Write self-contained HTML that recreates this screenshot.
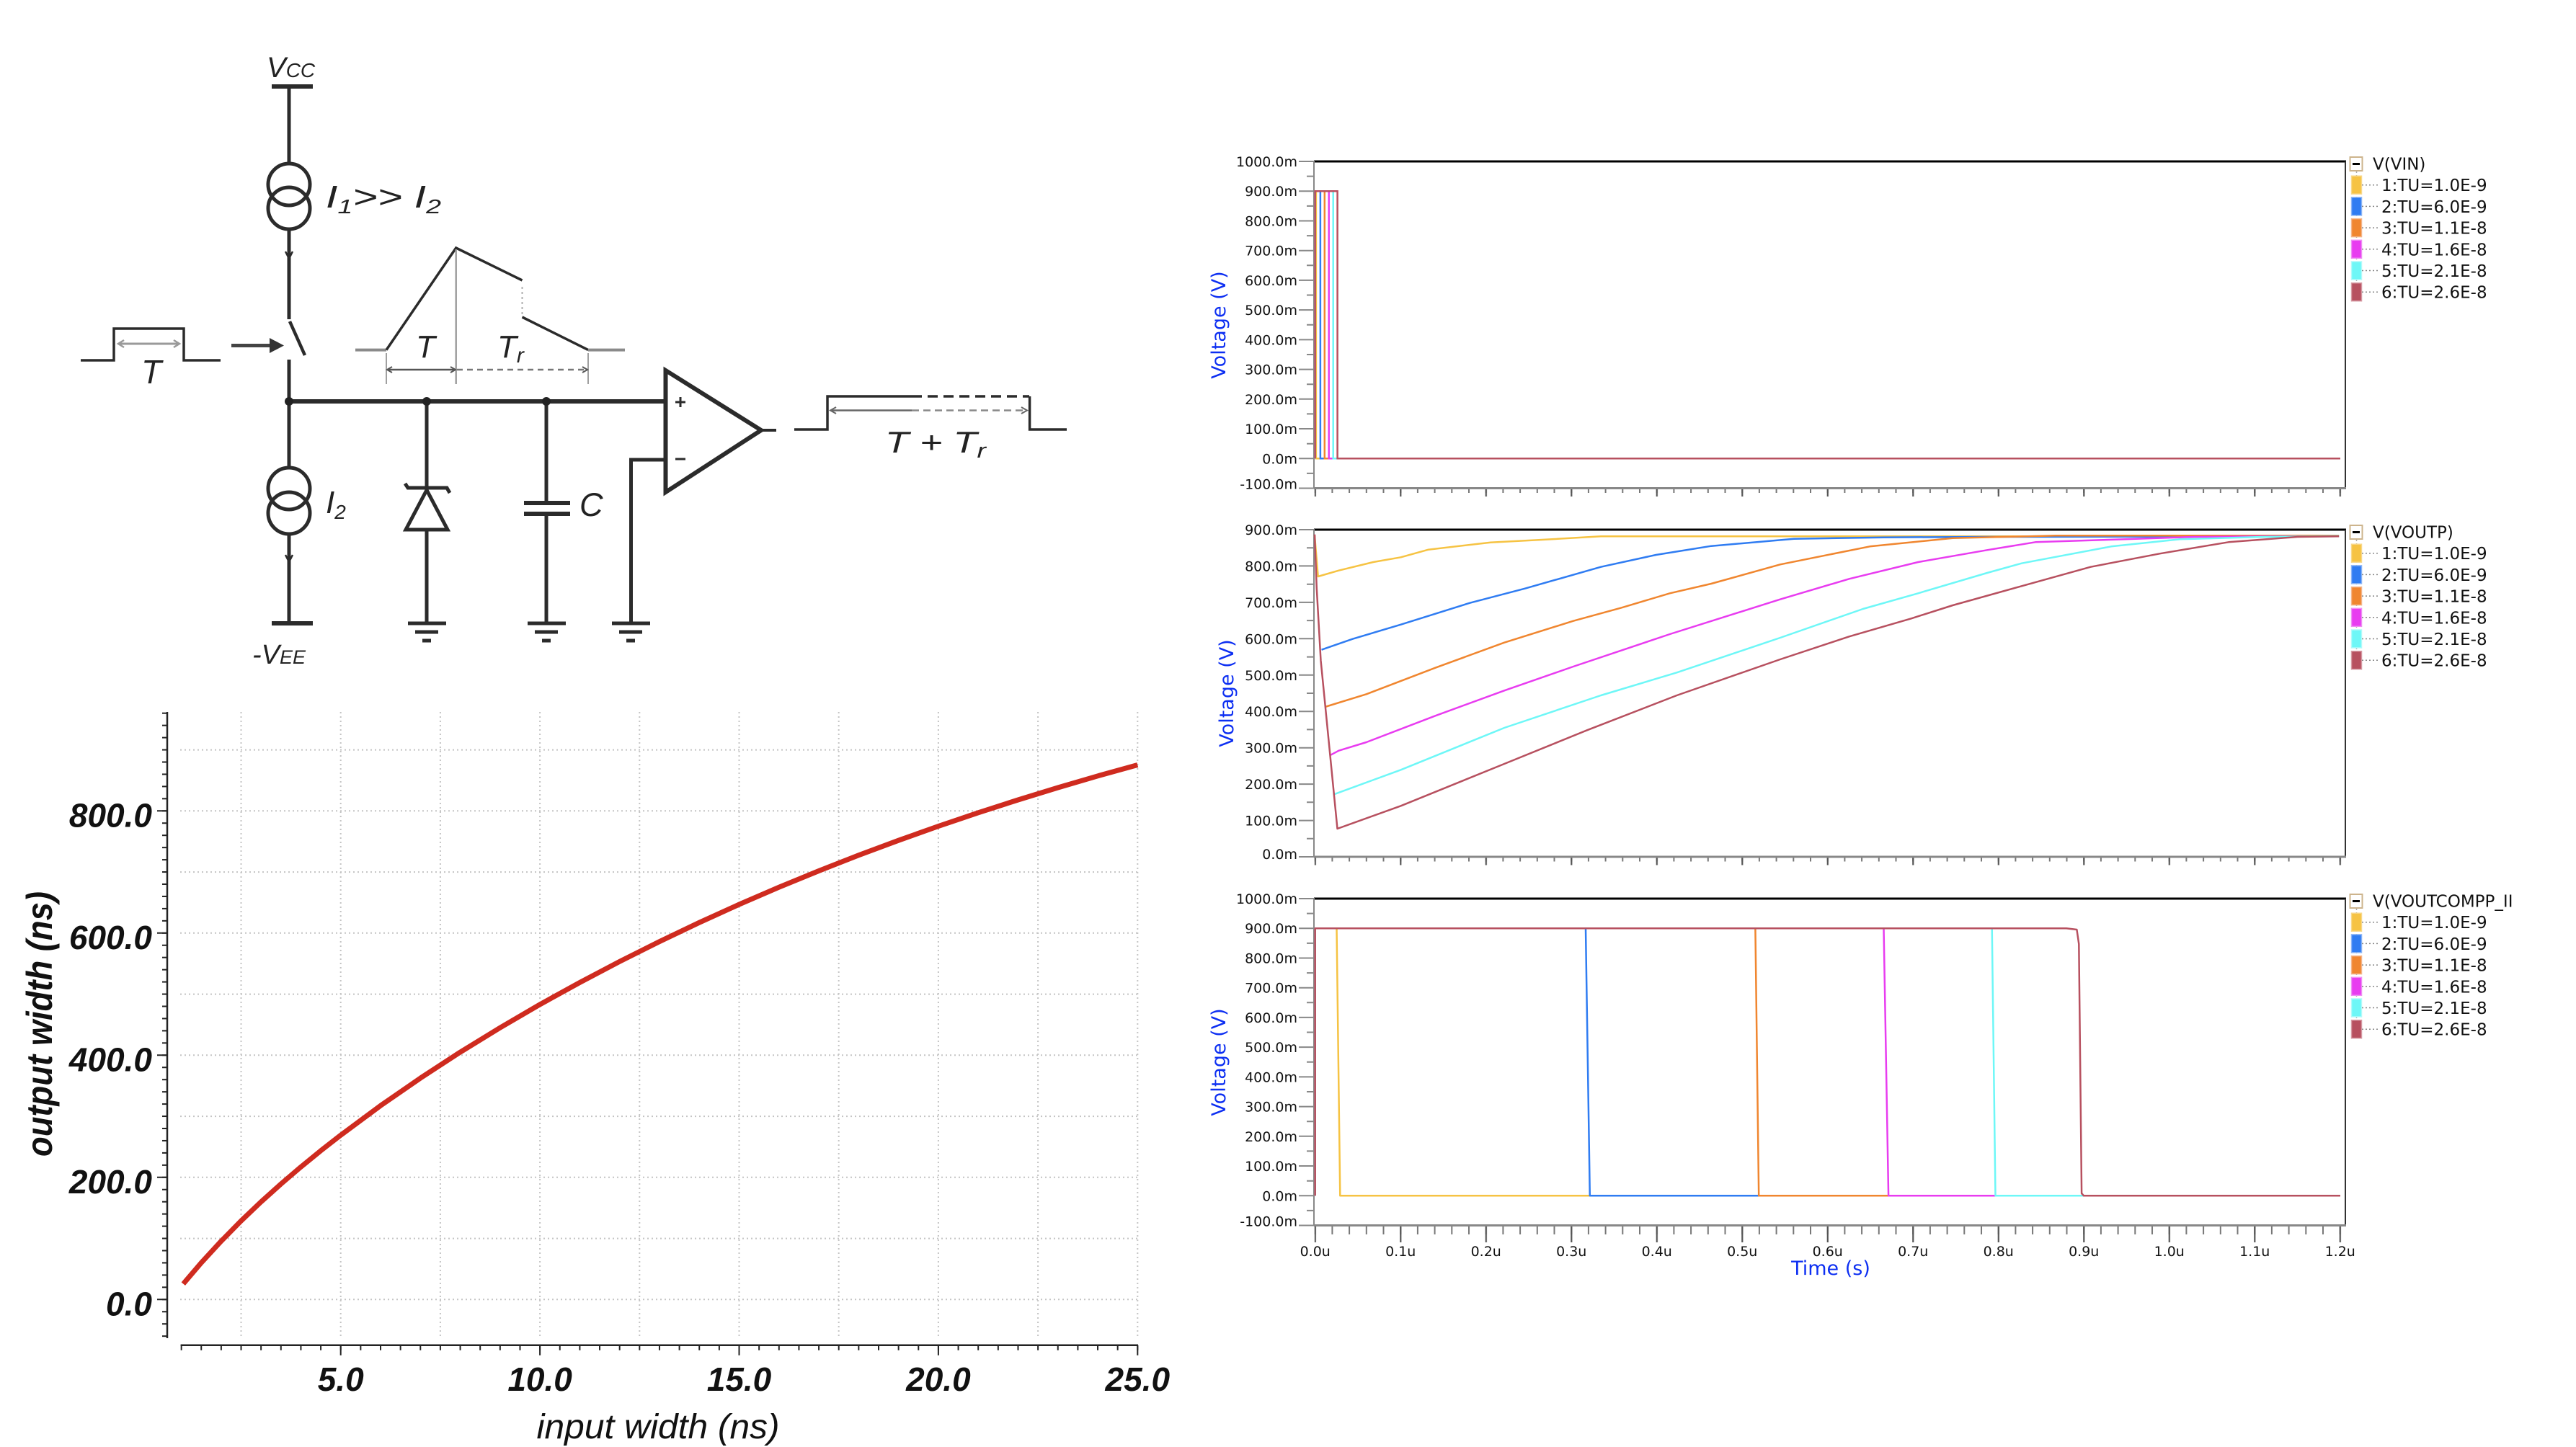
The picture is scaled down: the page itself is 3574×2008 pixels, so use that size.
<!DOCTYPE html>
<html>
<head>
<meta charset="utf-8">
<style>
html,body{margin:0;padding:0;background:#fff;}
svg{display:block;}
.dv{font-family:"DejaVu Sans","Liberation Sans",sans-serif;}
.ls{font-family:"Liberation Sans",sans-serif;}
</style>
</head>
<body>
<svg width="3574" height="2008" viewBox="0 0 3574 2008" xmlns="http://www.w3.org/2000/svg">
<defs>
  <pattern id="xmin12" x="1823.7" y="0" width="23.7" height="2008" patternUnits="userSpaceOnUse"><rect x="0" y="0" width="2" height="2008" fill="#777"/></pattern>
  <pattern id="xmaj" x="1823.7" y="0" width="118.5" height="2008" patternUnits="userSpaceOnUse"><rect x="0" y="0" width="2.2" height="2008" fill="#555"/></pattern>
  <pattern id="bly" x="0" y="1802.3" width="3574" height="16.95" patternUnits="userSpaceOnUse"><rect x="0" y="0" width="3574" height="2" fill="#222"/></pattern>
  <pattern id="blx" x="250.6" y="0" width="27.64" height="2008" patternUnits="userSpaceOnUse"><rect x="0" y="0" width="2" height="2008" fill="#222"/></pattern>
</defs>
<rect width="3574" height="2008" fill="#fff"/>

<!-- ================= CIRCUIT ================= -->
<g stroke="#2b2b2b" stroke-width="5" fill="none">
  <line x1="377" y1="120" x2="434" y2="120" stroke-width="6"/>
  <line x1="401" y1="120" x2="401" y2="227"/>
  <circle cx="401" cy="256" r="29"/>
  <circle cx="401" cy="289" r="29"/>
  <line x1="401" y1="318" x2="401" y2="443"/>
  <path d="M396,349 L401,359 L406,349" stroke-width="2.5"/>
  <line x1="402" y1="446" x2="423" y2="493" stroke-width="4.5"/>
  <line x1="401" y1="499" x2="401" y2="557"/>
  <line x1="401" y1="557" x2="924" y2="557" stroke-width="6"/>
  <line x1="401" y1="557" x2="401" y2="649"/>
  <circle cx="401" cy="678" r="29"/>
  <circle cx="401" cy="712" r="29"/>
  <line x1="401" y1="741" x2="401" y2="865"/>
  <path d="M396,770 L401,780 L406,770" stroke-width="2.5"/>
  <line x1="377" y1="865" x2="434" y2="865" stroke-width="6"/>

  <!-- input pulse -->
  <polyline points="112,500 158,500 158,456 255,456 255,500 306,500" stroke-width="3.5"/>
  <line x1="166" y1="477" x2="247" y2="477" stroke="#9a9a9a" stroke-width="3"/>
  <path d="M172,472 L164,477 L172,482" stroke="#9a9a9a" stroke-width="2.5"/>
  <path d="M241,472 L249,477 L241,482" stroke="#9a9a9a" stroke-width="2.5"/>
  <!-- arrow to switch -->
  <line x1="321" y1="479.5" x2="380" y2="479.5" stroke="#444" stroke-width="5"/>
  <path d="M374,469 L394,479.5 L374,490 Z" fill="#333" stroke="none"/>

  <!-- zener -->
  <line x1="592" y1="557" x2="592" y2="677"/>
  <path d="M562,671 L566,677 L620,677 L624,684" stroke-width="5"/>
  <path d="M592,680 L563,735 L621,735 Z" stroke-width="5"/>
  <line x1="592" y1="735" x2="592" y2="865"/>
  <line x1="566" y1="865" x2="619" y2="865"/>
  <line x1="576" y1="877" x2="608" y2="877"/>
  <line x1="586" y1="889" x2="598" y2="889"/>

  <!-- capacitor -->
  <line x1="758" y1="557" x2="758" y2="698"/>
  <line x1="727" y1="698" x2="791" y2="698" stroke-width="6"/>
  <line x1="727" y1="713" x2="791" y2="713" stroke-width="6"/>
  <line x1="758" y1="713" x2="758" y2="865"/>
  <line x1="732" y1="865" x2="785" y2="865"/>
  <line x1="742" y1="877" x2="774" y2="877"/>
  <line x1="752" y1="889" x2="764" y2="889"/>

  <!-- op amp -->
  <path d="M923.5,514 L923.5,683 L1056,597 Z" stroke-width="6"/>
  <line x1="937" y1="558" x2="951" y2="558" stroke-width="3"/>
  <line x1="944" y1="551" x2="944" y2="565" stroke-width="3"/>
  <line x1="937" y1="637" x2="951" y2="637" stroke-width="3"/>
  <polyline points="923.5,638 875.5,638 875.5,865"/>
  <line x1="849" y1="865" x2="902" y2="865"/>
  <line x1="859" y1="877" x2="891" y2="877"/>
  <line x1="869" y1="889" x2="881" y2="889"/>
  <line x1="1056" y1="597" x2="1077" y2="597" stroke-width="4"/>

  <!-- output pulse -->
  <polyline points="1102,596 1148,596 1148,550 1265,550" stroke-width="3.5"/>
  <line x1="1265" y1="550" x2="1428" y2="550" stroke-width="3.5" stroke-dasharray="14 8"/>
  <polyline points="1428.6,550 1428.6,596 1480,596" stroke-width="3.5"/>
  <line x1="1154" y1="569.5" x2="1265" y2="569.5" stroke="#666" stroke-width="2.5"/>
  <line x1="1265" y1="569.5" x2="1423" y2="569.5" stroke="#888" stroke-width="2.5" stroke-dasharray="10 6"/>
  <path d="M1160,565 L1152,569.5 L1160,574" stroke="#666" stroke-width="2"/>
  <path d="M1417,565 L1425,569.5 L1417,574" stroke="#666" stroke-width="2"/>

  <!-- ramp -->
  <line x1="493" y1="485.6" x2="536" y2="485.6" stroke="#8a8a8a" stroke-width="4"/>
  <polyline points="536,485.6 632.7,344 724.5,389" stroke-width="3.5"/>
  <line x1="724.5" y1="398" x2="724.5" y2="436" stroke="#b0b0b0" stroke-width="2" stroke-dasharray="3 4"/>
  <line x1="724.5" y1="440" x2="816" y2="485.6" stroke-width="3.5"/>
  <line x1="816" y1="485.6" x2="867" y2="485.6" stroke="#8a8a8a" stroke-width="4"/>
  <line x1="632.7" y1="346" x2="632.7" y2="533" stroke="#a0a0a0" stroke-width="2.5"/>
  <line x1="536" y1="490" x2="536" y2="533" stroke="#a0a0a0" stroke-width="2"/>
  <line x1="816" y1="490" x2="816" y2="533" stroke="#a0a0a0" stroke-width="2"/>
  <line x1="538" y1="513" x2="631" y2="513" stroke="#555" stroke-width="2.5"/>
  <line x1="634" y1="513" x2="814" y2="513" stroke="#777" stroke-width="2.5" stroke-dasharray="8 6"/>
  <path d="M544,509 L537,513 L544,517" stroke="#555" stroke-width="2"/>
  <path d="M625,509 L632,513 L625,517" stroke="#555" stroke-width="2"/>
  <path d="M808,509 L815,513 L808,517" stroke="#555" stroke-width="2"/>
</g>
<g fill="#222">
  <circle cx="401" cy="557" r="6"/>
  <circle cx="592" cy="557" r="6"/>
  <circle cx="758" cy="557" r="6"/>
</g>
<g class="ls" font-style="italic" fill="#222">
  <text x="370" y="107" font-size="40">V<tspan font-size="28">CC</tspan></text>
  <text x="350" y="921" font-size="38">-V<tspan font-size="27">EE</tspan></text>
  <text x="452" y="288" font-size="44" textLength="160" lengthAdjust="spacingAndGlyphs">I<tspan font-size="28" dy="8">1</tspan><tspan dy="-8">&gt;&gt; I</tspan><tspan font-size="28" dy="8">2</tspan></text>
  <text x="452" y="712" font-size="44">I<tspan font-size="28" dy="8">2</tspan></text>
  <text x="196" y="532" font-size="46">T</text>
  <text x="577" y="496" font-size="44">T</text>
  <text x="690" y="496" font-size="44">T<tspan font-size="30" dy="7">r</tspan></text>
  <text x="1228" y="628" font-size="42" textLength="140" lengthAdjust="spacingAndGlyphs">T + T<tspan font-size="29" dy="7">r</tspan></text>
  <text x="804" y="716" font-size="45">C</text>
</g>

<!-- ================= BOTTOM-LEFT CHART ================= -->
<g stroke="#c4c4c4" stroke-width="2" stroke-dasharray="2 4">
  <line x1="334.5" y1="988" x2="334.5" y2="1855"/>
  <line x1="472.7" y1="988" x2="472.7" y2="1855"/>
  <line x1="610.9" y1="988" x2="610.9" y2="1855"/>
  <line x1="749.1" y1="988" x2="749.1" y2="1855"/>
  <line x1="887.3" y1="988" x2="887.3" y2="1855"/>
  <line x1="1025.5" y1="988" x2="1025.5" y2="1855"/>
  <line x1="1163.7" y1="988" x2="1163.7" y2="1855"/>
  <line x1="1301.9" y1="988" x2="1301.9" y2="1855"/>
  <line x1="1440.1" y1="988" x2="1440.1" y2="1855"/>
  <line x1="1578.3" y1="988" x2="1578.3" y2="1855"/>
  <line x1="250" y1="1803.3" x2="1578" y2="1803.3"/>
  <line x1="250" y1="1718.6" x2="1578" y2="1718.6"/>
  <line x1="250" y1="1633.8" x2="1578" y2="1633.8"/>
  <line x1="250" y1="1549.1" x2="1578" y2="1549.1"/>
  <line x1="250" y1="1464.3" x2="1578" y2="1464.3"/>
  <line x1="250" y1="1379.6" x2="1578" y2="1379.6"/>
  <line x1="250" y1="1294.8" x2="1578" y2="1294.8"/>
  <line x1="250" y1="1210.1" x2="1578" y2="1210.1"/>
  <line x1="250" y1="1125.3" x2="1578" y2="1125.3"/>
  <line x1="250" y1="1040.6" x2="1578" y2="1040.6"/>
</g>
<line x1="232" y1="988" x2="232" y2="1857" stroke="#222" stroke-width="2.5"/>
<rect x="225" y="988" width="7" height="869" fill="url(#bly)"/>
<path d="M218,1803.3h14 M218,1633.8h14 M218,1464.3h14 M218,1294.8h14 M218,1125.3h14" stroke="#222" stroke-width="2"/>
<line x1="250.6" y1="1866.7" x2="1579" y2="1866.7" stroke="#222" stroke-width="2.5"/>
<rect x="250.6" y="1866.7" width="1330" height="7" fill="url(#blx)"/>
<path d="M472.7,1866.7v14 M749.1,1866.7v14 M1025.5,1866.7v14 M1301.9,1866.7v14 M1578.3,1866.7v14" stroke="#222" stroke-width="2"/>
<polyline fill="none" stroke="#cf2b1f" stroke-width="7" stroke-linejoin="round" stroke-linecap="butt" points="254.3,1781.6 279.2,1752.4 306.9,1722.3 334.5,1694.2 362.1,1667.9 389.8,1643.0 417.4,1619.4 445.1,1596.8 472.7,1575.3 528.0,1534.3 583.3,1496.1 638.5,1460.1 693.8,1426.2 749.1,1393.9 804.4,1363.4 859.7,1334.3 915.0,1306.6 970.3,1280.2 1025.5,1255.1 1080.8,1231.2 1136.1,1208.5 1191.4,1186.8 1246.7,1166.2 1302.0,1146.5 1357.2,1127.8 1412.5,1110.0 1467.8,1093.0 1523.1,1076.8 1578.3,1061.5"/>
<g class="ls" font-style="italic" font-weight="bold" font-size="46" fill="#111" text-anchor="end">
  <text x="211" y="1825.3">0.0</text>
  <text x="211" y="1655.8">200.0</text>
  <text x="211" y="1486.3">400.0</text>
  <text x="211" y="1316.8">600.0</text>
  <text x="211" y="1147.3">800.0</text>
</g>
<g class="ls" font-style="italic" font-weight="bold" font-size="46" fill="#111" text-anchor="middle">
  <text x="472.7" y="1930">5.0</text>
  <text x="749.1" y="1930">10.0</text>
  <text x="1025.5" y="1930">15.0</text>
  <text x="1301.9" y="1930">20.0</text>
  <text x="1578.3" y="1930">25.0</text>
</g>
<text class="ls" x="913" y="1996" font-size="48" font-style="italic" fill="#111" text-anchor="middle" textLength="337" lengthAdjust="spacingAndGlyphs">input width (ns)</text>
<text class="ls" transform="translate(72,1421) rotate(-90)" x="0" y="0" font-size="50" font-style="italic" font-weight="bold" fill="#111" text-anchor="middle" textLength="368" lengthAdjust="spacingAndGlyphs">output width (ns)</text>

<!-- ================= RIGHT PANELS: frames ================= -->
<g>
  <!-- Panel 1 -->
  <line x1="1823" y1="224" x2="3255" y2="224" stroke="#000" stroke-width="3"/>
  <line x1="3254" y1="224" x2="3254" y2="678" stroke="#333" stroke-width="2"/>
  <line x1="1823" y1="223" x2="1823" y2="678" stroke="#888" stroke-width="2"/>
  <line x1="1823" y1="677.5" x2="3255" y2="677.5" stroke="#888" stroke-width="3"/>
  <rect x="1823.7" y="679" width="1425" height="5" fill="url(#xmin12)"/>
  <rect x="1823.7" y="679" width="1425" height="10" fill="url(#xmaj)"/>
  <path d="M1802,224h21 M1802,265.2h21 M1802,306.5h21 M1802,347.7h21 M1802,388.9h21 M1802,430.1h21 M1802,471.4h21 M1802,512.6h21 M1802,553.8h21 M1802,595h21 M1802,636.3h21 M1802,677.5h21 M1813,244.6h10 M1813,285.9h10 M1813,327.1h10 M1813,368.3h10 M1813,409.5h10 M1813,450.8h10 M1813,492h10 M1813,533.2h10 M1813,574.4h10 M1813,615.7h10 M1813,656.9h10" stroke="#888" stroke-width="2"/>

  <!-- Panel 2 -->
  <line x1="1823" y1="735" x2="3255" y2="735" stroke="#000" stroke-width="3"/>
  <line x1="3254" y1="735" x2="3254" y2="1189" stroke="#333" stroke-width="2"/>
  <line x1="1823" y1="734" x2="1823" y2="1189" stroke="#888" stroke-width="2"/>
  <line x1="1823" y1="1189" x2="3255" y2="1189" stroke="#888" stroke-width="3"/>
  <rect x="1823.7" y="1190.5" width="1425" height="5" fill="url(#xmin12)"/>
  <rect x="1823.7" y="1190.5" width="1425" height="10" fill="url(#xmaj)"/>
  <path d="M1802,735h21 M1802,785.4h21 M1802,835.9h21 M1802,886.3h21 M1802,936.8h21 M1802,987.2h21 M1802,1037.7h21 M1802,1088.1h21 M1802,1138.6h21 M1802,1189h21 M1813,760.2h10 M1813,810.7h10 M1813,861.1h10 M1813,911.6h10 M1813,962h10 M1813,1012.4h10 M1813,1062.9h10 M1813,1113.3h10 M1813,1163.8h10" stroke="#888" stroke-width="2"/>

  <!-- Panel 3 -->
  <line x1="1823" y1="1247" x2="3255" y2="1247" stroke="#000" stroke-width="3"/>
  <line x1="3254" y1="1247" x2="3254" y2="1701" stroke="#333" stroke-width="2"/>
  <line x1="1823" y1="1246" x2="1823" y2="1701" stroke="#888" stroke-width="2"/>
  <line x1="1823" y1="1700.5" x2="3255" y2="1700.5" stroke="#888" stroke-width="3"/>
  <rect x="1823.7" y="1702" width="1425" height="11" fill="url(#xmin12)"/>
  <rect x="1823.7" y="1702" width="1425" height="22" fill="url(#xmaj)"/>
  <path d="M1802,1247h21 M1802,1288.2h21 M1802,1329.5h21 M1802,1370.7h21 M1802,1411.9h21 M1802,1453.1h21 M1802,1494.4h21 M1802,1535.6h21 M1802,1576.8h21 M1802,1618h21 M1802,1659.3h21 M1802,1700.5h21 M1813,1267.6h10 M1813,1308.9h10 M1813,1350.1h10 M1813,1391.3h10 M1813,1432.5h10 M1813,1473.8h10 M1813,1515h10 M1813,1556.2h10 M1813,1597.4h10 M1813,1638.7h10 M1813,1679.9h10" stroke="#888" stroke-width="2"/>
</g>

<!-- y labels -->
<g class="dv" font-size="19" fill="#111" text-anchor="end">
  <text x="1800" y="231">1000.0m</text>
  <text x="1800" y="272.2">900.0m</text>
  <text x="1800" y="313.5">800.0m</text>
  <text x="1800" y="354.7">700.0m</text>
  <text x="1800" y="395.9">600.0m</text>
  <text x="1800" y="437.1">500.0m</text>
  <text x="1800" y="478.4">400.0m</text>
  <text x="1800" y="519.6">300.0m</text>
  <text x="1800" y="560.8">200.0m</text>
  <text x="1800" y="602">100.0m</text>
  <text x="1800" y="643.3">0.0m</text>
  <text x="1800" y="678.5">-100.0m</text>

  <text x="1800" y="742">900.0m</text>
  <text x="1800" y="792.4">800.0m</text>
  <text x="1800" y="842.9">700.0m</text>
  <text x="1800" y="893.3">600.0m</text>
  <text x="1800" y="943.8">500.0m</text>
  <text x="1800" y="994.2">400.0m</text>
  <text x="1800" y="1044.7">300.0m</text>
  <text x="1800" y="1095.1">200.0m</text>
  <text x="1800" y="1145.6">100.0m</text>
  <text x="1800" y="1192">0.0m</text>

  <text x="1800" y="1254">1000.0m</text>
  <text x="1800" y="1295.2">900.0m</text>
  <text x="1800" y="1336.5">800.0m</text>
  <text x="1800" y="1377.7">700.0m</text>
  <text x="1800" y="1418.9">600.0m</text>
  <text x="1800" y="1460.1">500.0m</text>
  <text x="1800" y="1501.4">400.0m</text>
  <text x="1800" y="1542.6">300.0m</text>
  <text x="1800" y="1583.8">200.0m</text>
  <text x="1800" y="1625">100.0m</text>
  <text x="1800" y="1666.3">0.0m</text>
  <text x="1800" y="1701.5">-100.0m</text>
</g>
<!-- x labels -->
<g class="dv" font-size="19" fill="#111" text-anchor="middle">
  <text x="1824.7" y="1743">0.0u</text>
  <text x="1943.2" y="1743">0.1u</text>
  <text x="2061.7" y="1743">0.2u</text>
  <text x="2180.2" y="1743">0.3u</text>
  <text x="2298.7" y="1743">0.4u</text>
  <text x="2417.2" y="1743">0.5u</text>
  <text x="2535.7" y="1743">0.6u</text>
  <text x="2654.2" y="1743">0.7u</text>
  <text x="2772.7" y="1743">0.8u</text>
  <text x="2891.2" y="1743">0.9u</text>
  <text x="3009.7" y="1743">1.0u</text>
  <text x="3128.2" y="1743">1.1u</text>
  <text x="3246.7" y="1743">1.2u</text>
</g>
<g class="dv" font-size="27" fill="#0d2ff2" text-anchor="middle">
  <text transform="translate(1700,451) rotate(-90)">Voltage (V)</text>
  <text transform="translate(1711,962) rotate(-90)">Voltage (V)</text>
  <text transform="translate(1700,1474) rotate(-90)">Voltage (V)</text>
  <text x="2540" y="1769">Time (s)</text>
</g>

<!-- ================= Panel 1 series ================= -->
<g fill="none" stroke-width="2.5">
  <path d="M1824.7,636.3 V265.2 H1825.9 V636.3 H3247" stroke="#f6c343"/>
  <path d="M1824.7,636.3 V265.2 H1831.9 V636.3 H3247" stroke="#2f7cf2"/>
  <path d="M1824.7,636.3 V265.2 H1837.8 V636.3 H3247" stroke="#f0862f"/>
  <path d="M1824.7,636.3 V265.2 H1843.7 V636.3 H3247" stroke="#e83cf0"/>
  <path d="M1824.7,636.3 V265.2 H1849.7 V636.3 H3247" stroke="#6ef7f7"/>
  <path d="M1824.7,636.3 V265.2 H1855.6 V636.3 H3247" stroke="#b7505f"/>
</g>

<!-- ================= Panel 2 series ================= -->
<g fill="none" stroke-width="2.5" stroke-linejoin="round">
  <polyline stroke="#f6c343" points="1824,743.3 1828.7,800 1857.4,791.7 1905.3,780 1943.6,773.3 1981.8,762.7 2068,752.7 2135,749.3 2221.1,744.3 3245.1,744.3"/>
  <polyline stroke="#2f7cf2" points="1833.5,901.7 1843.1,898.3 1876.6,886.7 1943.6,866.7 2039.3,836.7 2115.8,816.7 2221.1,786.7 2297.6,770 2374.2,757.7 2489,747.7 2613.5,745.7 2757,745 3245.1,744.3"/>
  <polyline stroke="#f0862f" points="1838.3,981 1895.7,963.3 1991.4,926.7 2087.1,891.7 2182.8,861.7 2249.8,843.3 2316.8,823.3 2374.2,810 2469.9,783.3 2594.3,758.3 2709.2,746.7 2852.7,743.3 3245.1,743.3"/>
  <polyline stroke="#e83cf0" points="1845,1048.3 1857.4,1041.7 1895.7,1030 1991.4,993.3 2087.1,958.3 2182.8,925 2316.8,880 2469.9,831.7 2565.6,803.3 2661.3,780 2757,763.3 2824,752.3 2948.4,748.3 3044.1,745 3139.8,744.3 3245.1,744.3"/>
  <polyline stroke="#6ef7f7" points="1849.8,1102.7 1943.6,1068.3 2087.1,1010 2221.1,965 2326.4,933.3 2469.9,885 2584.7,845 2661.3,823.3 2757,795 2804.9,781.7 2929.3,758.3 3025,748.3 3139.8,745 3245.1,743.8"/>
  <polyline stroke="#b7505f" points="1824,741.7 1826.8,816.7 1832.5,916.7 1855.5,1150 1943.6,1118.3 2087.1,1060 2201.9,1013.3 2326.4,965 2469.9,915 2565.6,883.3 2651.7,858.3 2709.2,840 2804.9,813.3 2900.6,786.7 2996.3,768.3 3092,752.3 3187.7,745 3245.1,744.3"/>
</g>

<!-- ================= Panel 3 series ================= -->
<g fill="none" stroke-width="2.5" stroke-linejoin="round">
  <path d="M1824.7,1659.3 V1288.2 H1854.5 L1859.3,1659.3 H3247" stroke="#f6c343"/>
  <path d="M1824.7,1659.3 V1288.2 H2200 L2205.8,1659.3 H3247" stroke="#2f7cf2"/>
  <path d="M1824.7,1659.3 V1288.2 H2435.4 L2440.2,1659.3 H3247" stroke="#f0862f"/>
  <path d="M1824.7,1659.3 V1288.2 H2613.5 L2620.1,1659.3 H3247" stroke="#e83cf0"/>
  <path d="M1824.7,1659.3 V1288.2 H2763.7 L2768.5,1659.3 H3247" stroke="#6ef7f7"/>
  <path d="M1824.7,1659.3 V1288.2 H2867 L2881.4,1290 L2884.3,1310 L2888.1,1656 L2891,1659.3 H3247" stroke="#b7505f"/>
</g>

<!-- ================= Legends ================= -->
<g id="leg1">
  <rect x="3260.5" y="218" width="17" height="19" fill="#fff" stroke="#cdb48c" stroke-width="2"/>
  <line x1="3264" y1="227.5" x2="3274" y2="227.5" stroke="#000" stroke-width="3"/>
  <line x1="3269.5" y1="238" x2="3269.5" y2="418" stroke="#aaa" stroke-width="1.5" stroke-dasharray="2 3"/>
  <g stroke-width="1.5">
    <rect x="3262.5" y="244.2" width="14" height="25" fill="#f6c343" stroke="#f8d88a"/>
    <rect x="3262.5" y="273.9" width="14" height="25" fill="#2f7cf2" stroke="#8ab4f6"/>
    <rect x="3262.5" y="303.6" width="14" height="25" fill="#f0862f" stroke="#f4b68a"/>
    <rect x="3262.5" y="333.3" width="14" height="25" fill="#e83cf0" stroke="#f08ef4"/>
    <rect x="3262.5" y="363" width="14" height="25" fill="#6ef7f7" stroke="#b2fafa"/>
    <rect x="3262.5" y="392.7" width="14" height="25" fill="#b7505f" stroke="#d69aa3"/>
  </g>
  <path d="M3277,256.7h23 M3277,286.4h23 M3277,316.1h23 M3277,345.8h23 M3277,375.5h23 M3277,405.2h23" stroke="#888" stroke-width="1.5" stroke-dasharray="2 3"/>
  <g class="dv" font-size="23" fill="#111">
    <text x="3292" y="235.5">V(VIN)</text>
    <text x="3304" y="265.2">1:TU=1.0E-9</text>
    <text x="3304" y="294.9">2:TU=6.0E-9</text>
    <text x="3304" y="324.6">3:TU=1.1E-8</text>
    <text x="3304" y="354.3">4:TU=1.6E-8</text>
    <text x="3304" y="384">5:TU=2.1E-8</text>
    <text x="3304" y="413.7">6:TU=2.6E-8</text>
  </g>
</g>
<g transform="translate(0,511)">
  <rect x="3260.5" y="218" width="17" height="19" fill="#fff" stroke="#cdb48c" stroke-width="2"/>
  <line x1="3264" y1="227.5" x2="3274" y2="227.5" stroke="#000" stroke-width="3"/>
  <line x1="3269.5" y1="238" x2="3269.5" y2="418" stroke="#aaa" stroke-width="1.5" stroke-dasharray="2 3"/>
  <g stroke-width="1.5">
    <rect x="3262.5" y="244.2" width="14" height="25" fill="#f6c343" stroke="#f8d88a"/>
    <rect x="3262.5" y="273.9" width="14" height="25" fill="#2f7cf2" stroke="#8ab4f6"/>
    <rect x="3262.5" y="303.6" width="14" height="25" fill="#f0862f" stroke="#f4b68a"/>
    <rect x="3262.5" y="333.3" width="14" height="25" fill="#e83cf0" stroke="#f08ef4"/>
    <rect x="3262.5" y="363" width="14" height="25" fill="#6ef7f7" stroke="#b2fafa"/>
    <rect x="3262.5" y="392.7" width="14" height="25" fill="#b7505f" stroke="#d69aa3"/>
  </g>
  <path d="M3277,256.7h23 M3277,286.4h23 M3277,316.1h23 M3277,345.8h23 M3277,375.5h23 M3277,405.2h23" stroke="#888" stroke-width="1.5" stroke-dasharray="2 3"/>
  <g class="dv" font-size="23" fill="#111">
    <text x="3292" y="235.5">V(VOUTP)</text>
    <text x="3304" y="265.2">1:TU=1.0E-9</text>
    <text x="3304" y="294.9">2:TU=6.0E-9</text>
    <text x="3304" y="324.6">3:TU=1.1E-8</text>
    <text x="3304" y="354.3">4:TU=1.6E-8</text>
    <text x="3304" y="384">5:TU=2.1E-8</text>
    <text x="3304" y="413.7">6:TU=2.6E-8</text>
  </g>
</g>
<g transform="translate(0,1023)">
  <rect x="3260.5" y="218" width="17" height="19" fill="#fff" stroke="#cdb48c" stroke-width="2"/>
  <line x1="3264" y1="227.5" x2="3274" y2="227.5" stroke="#000" stroke-width="3"/>
  <line x1="3269.5" y1="238" x2="3269.5" y2="418" stroke="#aaa" stroke-width="1.5" stroke-dasharray="2 3"/>
  <g stroke-width="1.5">
    <rect x="3262.5" y="244.2" width="14" height="25" fill="#f6c343" stroke="#f8d88a"/>
    <rect x="3262.5" y="273.9" width="14" height="25" fill="#2f7cf2" stroke="#8ab4f6"/>
    <rect x="3262.5" y="303.6" width="14" height="25" fill="#f0862f" stroke="#f4b68a"/>
    <rect x="3262.5" y="333.3" width="14" height="25" fill="#e83cf0" stroke="#f08ef4"/>
    <rect x="3262.5" y="363" width="14" height="25" fill="#6ef7f7" stroke="#b2fafa"/>
    <rect x="3262.5" y="392.7" width="14" height="25" fill="#b7505f" stroke="#d69aa3"/>
  </g>
  <path d="M3277,256.7h23 M3277,286.4h23 M3277,316.1h23 M3277,345.8h23 M3277,375.5h23 M3277,405.2h23" stroke="#888" stroke-width="1.5" stroke-dasharray="2 3"/>
  <g class="dv" font-size="23" fill="#111">
    <text x="3292" y="235.5">V(VOUTCOMPP_II</text>
    <text x="3304" y="265.2">1:TU=1.0E-9</text>
    <text x="3304" y="294.9">2:TU=6.0E-9</text>
    <text x="3304" y="324.6">3:TU=1.1E-8</text>
    <text x="3304" y="354.3">4:TU=1.6E-8</text>
    <text x="3304" y="384">5:TU=2.1E-8</text>
    <text x="3304" y="413.7">6:TU=2.6E-8</text>
  </g>
</g>
</svg>
</body>
</html>
